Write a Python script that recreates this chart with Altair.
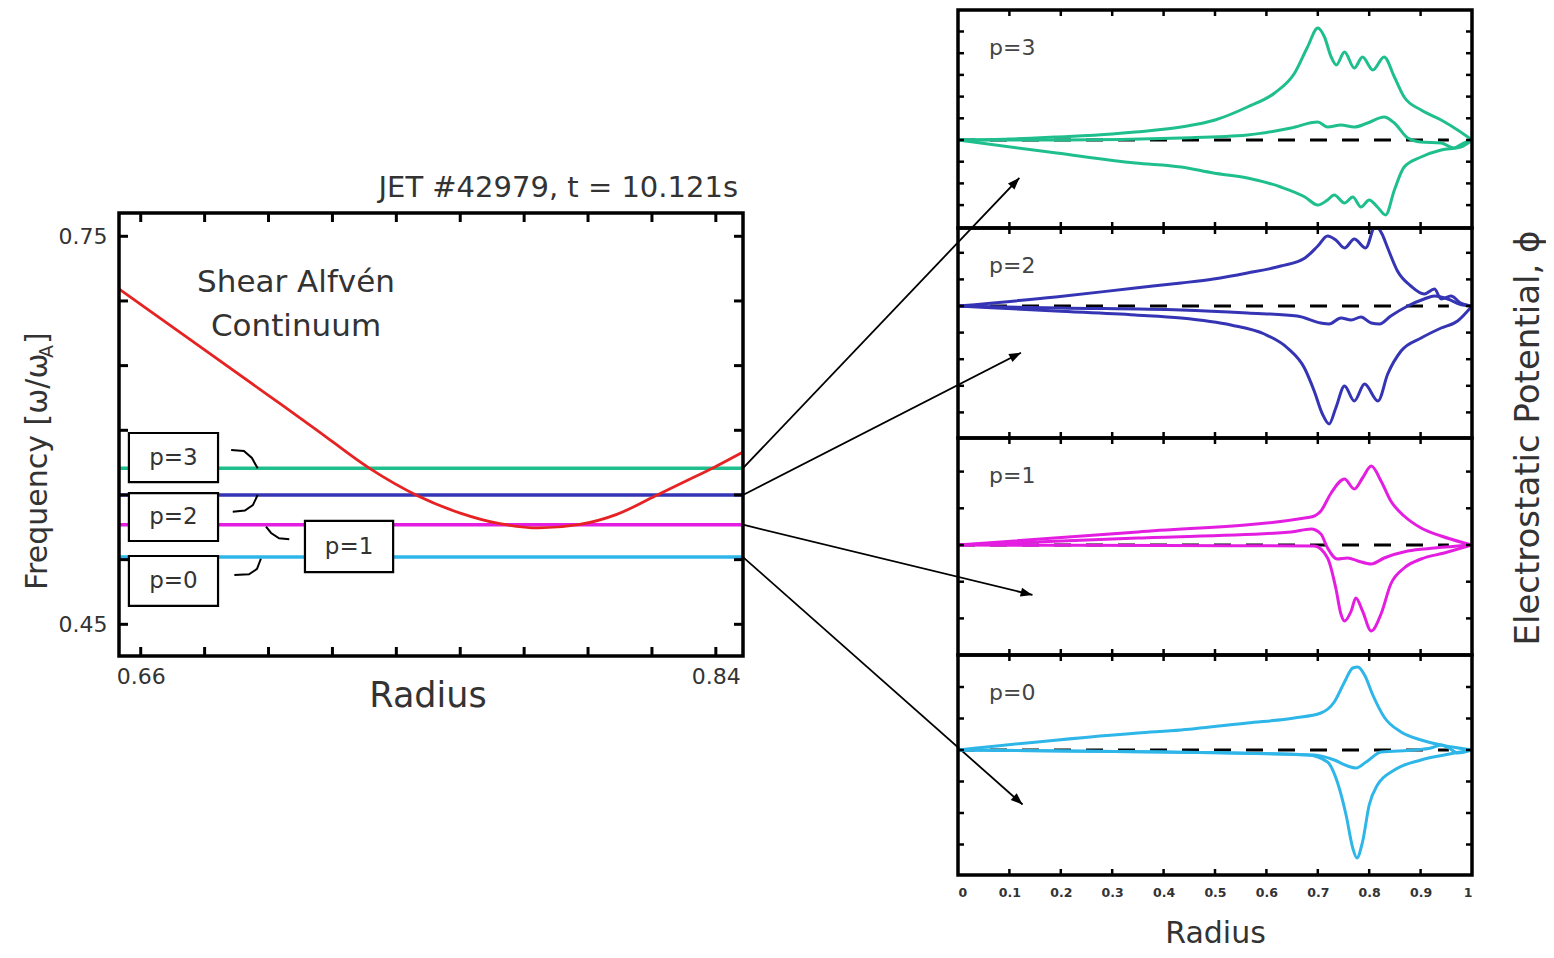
import math
import altair as alt
import pandas as pd

FONT = "DejaVu Sans"
INK = "#333333"

# ---------------- left panel : continuum + eigenfrequencies ----------------
cont_radius = [0.6532, 0.6767, 0.6995, 0.7150, 0.7314, 0.7468, 0.7600, 0.7720,
               0.7846, 0.7970, 0.8090, 0.8210, 0.8310, 0.8391, 0.8485]
cont_freq = [0.7093, 0.6680, 0.6278, 0.6004, 0.5709, 0.5492, 0.5360, 0.5280,
             0.5245, 0.5270, 0.5350, 0.5492, 0.5612, 0.5709, 0.5832]

mode_names = ["p=3", "p=2", "p=1", "p=0"]
mode_freq = [0.5707, 0.5500, 0.5270, 0.5020]
mode_colors = ["#1fbf8d", "#3434b4", "#e41ee0", "#2fb6e8"]
continuum_color = "#e62222"

left_x_domain = [0.6532, 0.8485]
left_y_domain = [0.4255, 0.7680]
left_x_ticks = [0.66, 0.68, 0.70, 0.72, 0.74, 0.76, 0.78, 0.80, 0.82, 0.84]
left_y_ticks = [0.45, 0.50, 0.55, 0.60, 0.65, 0.70, 0.75]
left_x_labels = [0.66, 0.84]
left_y_labels = [0.45, 0.75]

# label boxes (data units of the left panel)
box_label = ["p=3", "p=2", "p=1", "p=0"]
box_x1 = [0.6563, 0.6563, 0.7114, 0.6563]
box_x2 = [0.6842, 0.6842, 0.7390, 0.6842]
box_y1 = [0.5600, 0.5144, 0.4904, 0.4642]
box_y2 = [0.5979, 0.5515, 0.5299, 0.5028]

# little leader hooks between boxes and lines
hook_p3_x = [0.6883, 0.6923, 0.6948, 0.6966]
hook_p3_y = [0.5848, 0.5840, 0.5786, 0.5706]
hook_p2_x = [0.6966, 0.6951, 0.6926, 0.6888]
hook_p2_y = [0.5500, 0.5422, 0.5380, 0.5371]
hook_p1_x = [0.6992, 0.7008, 0.7033, 0.7065]
hook_p1_y = [0.5255, 0.5206, 0.5165, 0.5157]
hook_p0_x = [0.6976, 0.6964, 0.6939, 0.6893]
hook_p0_y = [0.5007, 0.4928, 0.4887, 0.4881]

# arrows from each frequency line to its eigenfunction panel (left-panel units)
arrow_end_r = [0.9350, 0.9355, 0.9391, 0.9360]
arrow_end_f = [0.7951, 0.6600, 0.4727, 0.3107]

note_text = ["Shear Alfvén", "Continuum"]
note_r = [0.7086, 0.7086]
note_f = [0.7139, 0.6799]

# ---------------- right panels : eigenfunctions ----------------
# p=3 (three harmonics)
p3_r_a = [0, 0.10, 0.19, 0.30, 0.345, 0.434, 0.50, 0.563, 0.616, 0.655, 0.68, 0.70,
          0.713, 0.726, 0.736, 0.752, 0.771, 0.787, 0.807, 0.829, 0.849, 0.868,
          0.901, 0.940, 0.972, 1.0]
p3_v_a = [0, 0.01, 0.03, 0.06, 0.08, 0.13, 0.20, 0.33, 0.47, 0.67, 0.93, 1.12,
          1.03, 0.83, 0.75, 0.88, 0.72, 0.83, 0.70, 0.83, 0.63, 0.43, 0.30, 0.20,
          0.10, 0.0]
p3_r_b = [0, 0.20, 0.434, 0.563, 0.648, 0.70, 0.719, 0.745, 0.771, 0.797, 0.829,
          0.849, 0.875, 0.90, 0.94, 0.965, 0.98, 1.0]
p3_v_b = [0, 0.0, 0.02, 0.05, 0.12, 0.18, 0.13, 0.15, 0.13, 0.17, 0.23, 0.17,
          0.02, -0.02, -0.03, -0.08, -0.04, 0]
p3_r_c = [0, 0.192, 0.345, 0.434, 0.497, 0.563, 0.628, 0.675, 0.70, 0.719, 0.732,
          0.752, 0.768, 0.784, 0.80, 0.816, 0.832, 0.849, 0.868, 0.901, 0.94,
          0.978, 1.0]
p3_v_c = [0, -0.13, -0.23, -0.27, -0.33, -0.38, -0.47, -0.57, -0.65, -0.60,
          -0.55, -0.63, -0.57, -0.67, -0.60, -0.67, -0.75, -0.50, -0.27, -0.17,
          -0.10, -0.07, 0]

# p=2
p2_r_a = [0, 0.19, 0.345, 0.434, 0.497, 0.563, 0.628, 0.675, 0.70, 0.719, 0.735,
          0.752, 0.771, 0.793, 0.812, 0.825, 0.836, 0.855, 0.881, 0.907, 0.927,
          0.940, 0.959, 0.978, 1.0]
p2_v_a = [0, 0.09, 0.18, 0.23, 0.27, 0.33, 0.40, 0.48, 0.60, 0.70, 0.66, 0.58,
          0.67, 0.58, 0.80, 0.72, 0.58, 0.35, 0.20, 0.12, 0.17, 0.07, 0.10, 0.03, 0]
p2_r_b = [0, 0.20, 0.434, 0.563, 0.66, 0.706, 0.722, 0.745, 0.765, 0.784, 0.804,
          0.820, 0.842, 0.875, 0.907, 0.927, 0.953, 0.975, 1.0]
p2_v_b = [0, -0.02, -0.04, -0.07, -0.10, -0.17, -0.18, -0.12, -0.14, -0.11,
          -0.17, -0.18, -0.10, 0.0, 0.07, 0.10, 0.07, 0.02, 0]
p2_r_c = [0, 0.19, 0.345, 0.434, 0.531, 0.596, 0.641, 0.674, 0.693, 0.709, 0.722,
          0.735, 0.752, 0.771, 0.791, 0.817, 0.836, 0.862, 0.901, 0.940, 0.972, 1.0]
p2_v_c = [0, -0.05, -0.09, -0.12, -0.19, -0.28, -0.42, -0.62, -0.85, -1.08,
          -1.18, -1.02, -0.80, -0.95, -0.78, -0.95, -0.68, -0.45, -0.32, -0.22,
          -0.15, 0]

# p=1
p1_r_a = [0, 0.35, 0.687, 0.706, 0.726, 0.752, 0.771, 0.787, 0.804, 0.823, 0.842,
          0.868, 0.901, 0.940, 0.985, 1.0]
p1_v_a = [0, 0.13, 0.28, 0.34, 0.52, 0.66, 0.56, 0.67, 0.79, 0.64, 0.44, 0.29,
          0.17, 0.09, 0.02, 0]
p1_r_b = [0, 0.35, 0.648, 0.687, 0.706, 0.719, 0.738, 0.758, 0.778, 0.804, 0.829,
          0.875, 0.927, 1.0]
p1_v_b = [0, 0.07, 0.13, 0.16, 0.11, -0.03, -0.14, -0.13, -0.16, -0.19, -0.13,
          -0.06, -0.03, 0]
p1_r_c = [0, 0.40, 0.693, 0.719, 0.735, 0.745, 0.752, 0.765, 0.774, 0.787, 0.804,
          0.823, 0.842, 0.868, 0.901, 0.946, 1.0]
p1_v_c = [0, -0.005, -0.01, -0.13, -0.43, -0.69, -0.76, -0.66, -0.53, -0.66,
          -0.86, -0.69, -0.39, -0.23, -0.14, -0.08, 0]

# p=0
p0_r_a = [0, 0.35, 0.434, 0.563, 0.654, 0.706, 0.732, 0.752, 0.768, 0.778, 0.791,
          0.807, 0.829, 0.862, 0.901, 0.940, 1.0]
p0_v_a = [0, 0.17, 0.20, 0.27, 0.32, 0.37, 0.48, 0.68, 0.82, 0.83, 0.75, 0.55,
          0.33, 0.18, 0.10, 0.05, 0]
p0_r_b = [0, 0.40, 0.693, 0.732, 0.758, 0.774, 0.794, 0.823, 0.888, 0.92, 0.94,
          0.955, 0.972, 1.0]
p0_v_b = [0, -0.02, -0.05, -0.10, -0.16, -0.18, -0.12, -0.02, 0.0, 0.02, 0.05,
          0.02, -0.03, 0]
p0_r_c = [0, 0.40, 0.680, 0.719, 0.738, 0.755, 0.768, 0.776, 0.787, 0.80, 0.816,
          0.849, 0.901, 0.946, 1.0]
p0_v_c = [0, -0.02, -0.05, -0.12, -0.32, -0.65, -0.98, -1.08, -0.92, -0.55,
          -0.35, -0.20, -0.10, -0.05, 0]

right_x_labels = [0, 0.1, 0.2, 0.3, 0.4, 0.5, 0.6, 0.7, 0.8, 0.9, 1]
right_x_ticks = [0.1, 0.2, 0.3, 0.4, 0.5, 0.6, 0.7, 0.8, 0.9]
zero_line_r = [0.0, 0.955]

panel_domains = {"p=3": [-0.88, 1.30], "p=2": [-1.32, 0.78],
                 "p=1": [-1.10, 1.07], "p=0": [-1.25, 0.95]}
panel_tick_step = {"p=3": 0.217, "p=2": 0.266, "p=1": 0.367, "p=0": 0.315}

# ---------------- layout constants (pixels) ----------------
LW, LH, LTOP = 624, 646, 203
RW = 514
RH = {"p=3": 218, "p=2": 210, "p=1": 217, "p=0": 220}
TICK = 9

# ============ LEFT CHART ============
xs_l = alt.Scale(domain=left_x_domain, nice=False, zero=False)
ys_l = alt.Scale(domain=left_y_domain, range=[LH, LTOP], nice=False, zero=False)

one = pd.DataFrame({"k": [0]})

x_axis_l = alt.Axis(values=left_x_labels, format=".2f", ticks=False, domain=False,
                    labelFontSize=22, labelPadding=10, labelColor=INK,
                    labelFont=FONT, title=None, grid=False)
y_axis_l = alt.Axis(values=left_y_labels, format=".2f", ticks=False, domain=False,
                    labelFontSize=22, labelPadding=12, labelColor=INK,
                    labelFont=FONT, title=None, grid=False)


def LX(field):
    return alt.X(field, scale=xs_l, axis=x_axis_l)


def LY(field):
    return alt.Y(field, scale=ys_l, axis=y_axis_l)


modes_df = pd.DataFrame({"mode": mode_names, "f": mode_freq,
                         "r0": left_x_domain[0], "r1": left_x_domain[1]})
mode_lines = alt.Chart(modes_df).mark_rule(strokeWidth=3.5).encode(
    x=LX("r0:Q"), x2="r1:Q", y=LY("f:Q"),
    color=alt.Color("mode:N", scale=alt.Scale(domain=mode_names, range=mode_colors),
                    legend=None),
)

cont_df = pd.DataFrame({"r": cont_radius, "f": cont_freq})
continuum = alt.Chart(cont_df).mark_line(color=continuum_color, strokeWidth=2.8,
                                         interpolate="monotone").encode(
    x=LX("r:Q"), y=LY("f:Q"))

frame_l = alt.Chart(one).mark_rect(fillOpacity=0, stroke="black", strokeWidth=3.5).encode(
    x=alt.value(0), x2=alt.value(LW), y=alt.value(LTOP), y2=alt.value(LH))

ytick_df = pd.DataFrame({"t": left_y_ticks})
xtick_df = pd.DataFrame({"t": left_x_ticks})
tick_style = dict(color="black", strokeWidth=3)
lt_left = alt.Chart(ytick_df).mark_rule(**tick_style).encode(
    y=LY("t:Q"), x=alt.value(0), x2=alt.value(TICK))
lt_right = alt.Chart(ytick_df).mark_rule(**tick_style).encode(
    y=LY("t:Q"), x=alt.value(LW - TICK), x2=alt.value(LW))
lt_top = alt.Chart(xtick_df).mark_rule(**tick_style).encode(
    x=LX("t:Q"), y=alt.value(LTOP), y2=alt.value(LTOP + TICK))
lt_bot = alt.Chart(xtick_df).mark_rule(**tick_style).encode(
    x=LX("t:Q"), y=alt.value(LH - TICK), y2=alt.value(LH))

box_df = pd.DataFrame({"label": box_label, "x1": box_x1, "x2": box_x2,
                       "y1": box_y1, "y2": box_y2})
box_df["xc"] = (box_df["x1"] + box_df["x2"]) / 2
box_df["yc"] = (box_df["y1"] + box_df["y2"]) / 2
boxes = alt.Chart(box_df).mark_rect(fill="white", stroke="black", strokeWidth=2.2).encode(
    x=LX("x1:Q"), x2="x2:Q", y=LY("y1:Q"), y2="y2:Q")
box_text = alt.Chart(box_df).mark_text(fontSize=23, font=FONT, color=INK).encode(
    x=LX("xc:Q"), y=LY("yc:Q"), text="label:N")

hook_rows = []
for name, hx, hy in [("p=3", hook_p3_x, hook_p3_y), ("p=2", hook_p2_x, hook_p2_y),
                     ("p=1", hook_p1_x, hook_p1_y), ("p=0", hook_p0_x, hook_p0_y)]:
    for i, (a, b) in enumerate(zip(hx, hy)):
        hook_rows.append({"mode": name, "i": i, "r": a, "f": b})
hooks = alt.Chart(pd.DataFrame(hook_rows)).mark_line(color="black", strokeWidth=2).encode(
    x=LX("r:Q"), y=LY("f:Q"), detail="mode:N", order="i:Q")

sx = LW / (left_x_domain[1] - left_x_domain[0])
sy = (LH - LTOP) / (left_y_domain[1] - left_y_domain[0])
arrow_rows = []
for name, f0, r1, f1 in zip(mode_names, mode_freq, arrow_end_r, arrow_end_f):
    r0 = left_x_domain[1]
    dx = (r1 - r0) * sx
    dy = -(f1 - f0) * sy
    ang = math.degrees(math.atan2(dx, -dy)) % 360
    arrow_rows.append({"mode": name, "r0": r0, "f0": f0, "r1": r1, "f1": f1, "ang": ang})
arrow_df = pd.DataFrame(arrow_rows)
arrow_shaft = alt.Chart(arrow_df).mark_rule(color="black", strokeWidth=1.8, clip=False).encode(
    x=LX("r0:Q"), x2="r1:Q", y=LY("f0:Q"), y2="f1:Q")
arrow_head = alt.Chart(arrow_df).mark_point(
    shape="M0,0L0.38,1L-0.38,1Z", filled=True, size=560, color="black",
    opacity=1, strokeWidth=0, clip=False).encode(
    x=LX("r1:Q"), y=LY("f1:Q"), angle=alt.Angle("ang:Q", scale=None))

note_df = pd.DataFrame({"t": note_text, "r": note_r, "f": note_f})
notes = alt.Chart(note_df).mark_text(fontSize=31, font=FONT, color=INK).encode(
    x=LX("r:Q"), y=LY("f:Q"), text="t:N")

txt = dict(font=FONT, color=INK)
title_l = alt.Chart(one).mark_text(text="JET #42979, t = 10.121s", fontSize=29,
                                   align="right", baseline="middle", **txt).encode(
    x=alt.value(619), y=alt.value(178))
xlabel_l = alt.Chart(one).mark_text(text="Radius", fontSize=35, align="center",
                                    baseline="middle", **txt).encode(
    x=alt.value(309), y=alt.value(686))
FY = 580
FW = 231
ylab_main = alt.Chart(one).mark_text(text="Frequency [ω/ω", fontSize=30, angle=270,
                                     align="left", baseline="middle", **txt).encode(
    x=alt.value(-81), y=alt.value(FY))
ylab_sub = alt.Chart(one).mark_text(text="A", fontSize=19, angle=270,
                                    align="left", baseline="middle", **txt).encode(
    x=alt.value(-72), y=alt.value(FY - FW - 1))
ylab_end = alt.Chart(one).mark_text(text="]", fontSize=30, angle=270,
                                    align="left", baseline="middle", **txt).encode(
    x=alt.value(-81), y=alt.value(FY - FW - 15))

left = alt.layer(
    mode_lines, continuum, lt_left, lt_right, lt_top, lt_bot, frame_l,
    hooks, boxes, box_text, arrow_shaft, arrow_head, notes, title_l, xlabel_l,
    ylab_main, ylab_sub, ylab_end,
).properties(width=LW, height=LH)


# ============ RIGHT PANELS ============
def panel(name, color, rs_list, vs_list, bottom=False, extra=None):
    H = RH[name]
    dom = panel_domains[name]
    step = panel_tick_step[name]
    xs = alt.Scale(domain=[0, 1], nice=False, zero=False)
    ys = alt.Scale(domain=dom, nice=False, zero=False)
    if bottom:
        xaxis = alt.Axis(values=right_x_labels, format="~g", ticks=False, domain=False,
                         labelFontSize=12.5, labelFontWeight="bold", labelColor=INK,
                         labelFont=FONT, labelPadding=11, title="Radius",
                         titleFontSize=30, titleFontWeight="normal", titleColor=INK,
                         titleFont=FONT, titlePadding=20, grid=False)
    else:
        xaxis = None

    def RX(field):
        return alt.X(field, scale=xs, axis=xaxis)

    def RY(field):
        return alt.Y(field, scale=ys, axis=None)

    rows = []
    for k, (rs, vs) in enumerate(zip(rs_list, vs_list)):
        for r, v in zip(rs, vs):
            rows.append({"r": r, "v": v, "curve": k})
    cdf = pd.DataFrame(rows)
    zero_df = pd.DataFrame({"r0": [zero_line_r[0]], "r1": [zero_line_r[1]], "v": [0.0]})
    zero_line = alt.Chart(zero_df).mark_rule(color="black", strokeWidth=3,
                                             strokeDash=[17, 15]).encode(
        x=RX("r0:Q"), x2="r1:Q", y=RY("v:Q"))
    curves = alt.Chart(cdf).mark_line(color=color, strokeWidth=3, clip=True,
                                      interpolate="monotone").encode(
        x=RX("r:Q"), y=RY("v:Q"), detail="curve:N")
    yt = [round(k * step, 4) for k in range(-10, 11)
          if dom[0] + 0.06 < k * step < dom[1] - 0.06]
    ytdf = pd.DataFrame({"t": yt})
    xtdf = pd.DataFrame({"t": right_x_ticks})
    ts = dict(color="black", strokeWidth=2.5)
    L = 6
    t1 = alt.Chart(ytdf).mark_rule(**ts).encode(
        y=RY("t:Q"), x=alt.value(0), x2=alt.value(L))
    t2 = alt.Chart(ytdf).mark_rule(**ts).encode(
        y=RY("t:Q"), x=alt.value(RW - L), x2=alt.value(RW))
    t3 = alt.Chart(xtdf).mark_rule(**ts).encode(
        x=RX("t:Q"), y=alt.value(0), y2=alt.value(L))
    t4 = alt.Chart(xtdf).mark_rule(**ts).encode(
        x=RX("t:Q"), y=alt.value(H - L), y2=alt.value(H))
    frame = alt.Chart(one).mark_rect(fillOpacity=0, stroke="black", strokeWidth=3.5).encode(
        x=alt.value(0), x2=alt.value(RW), y=alt.value(0), y2=alt.value(H))
    lab = alt.Chart(pd.DataFrame({"t": [name]})).mark_text(
        fontSize=22, align="left", baseline="middle", font=FONT, color="#444444").encode(
        x=alt.value(31), y=alt.value(38), text="t:N")
    layers = [zero_line, curves, t1, t2, t3, t4, frame, lab]
    if extra is not None:
        layers.append(extra)
    return alt.layer(*layers).properties(width=RW, height=H)


ytitle_r = alt.Chart(one).mark_text(text="Electrostatic Potential, ϕ", fontSize=34,
                                    angle=270, align="center", baseline="middle",
                                    **txt).encode(x=alt.value(RW + 57), y=alt.value(0))

right = alt.vconcat(
    panel("p=3", mode_colors[0], [p3_r_a, p3_r_b, p3_r_c], [p3_v_a, p3_v_b, p3_v_c]),
    panel("p=2", mode_colors[1], [p2_r_a, p2_r_b, p2_r_c], [p2_v_a, p2_v_b, p2_v_c]),
    panel("p=1", mode_colors[2], [p1_r_a, p1_r_b, p1_r_c], [p1_v_a, p1_v_b, p1_v_c],
          extra=ytitle_r),
    panel("p=0", mode_colors[3], [p0_r_a, p0_r_b, p0_r_c], [p0_v_a, p0_v_b, p0_v_c],
          bottom=True),
    spacing=0, bounds="flush",
)

chart = alt.hconcat(left, right, spacing=215, bounds="flush").properties(
    padding={"left": 15, "top": 0, "right": 0, "bottom": 0}
).configure_view(strokeWidth=0).configure_axis(grid=False)

chart.save("out.html", embed_options={"renderer": "svg", "actions": False})
